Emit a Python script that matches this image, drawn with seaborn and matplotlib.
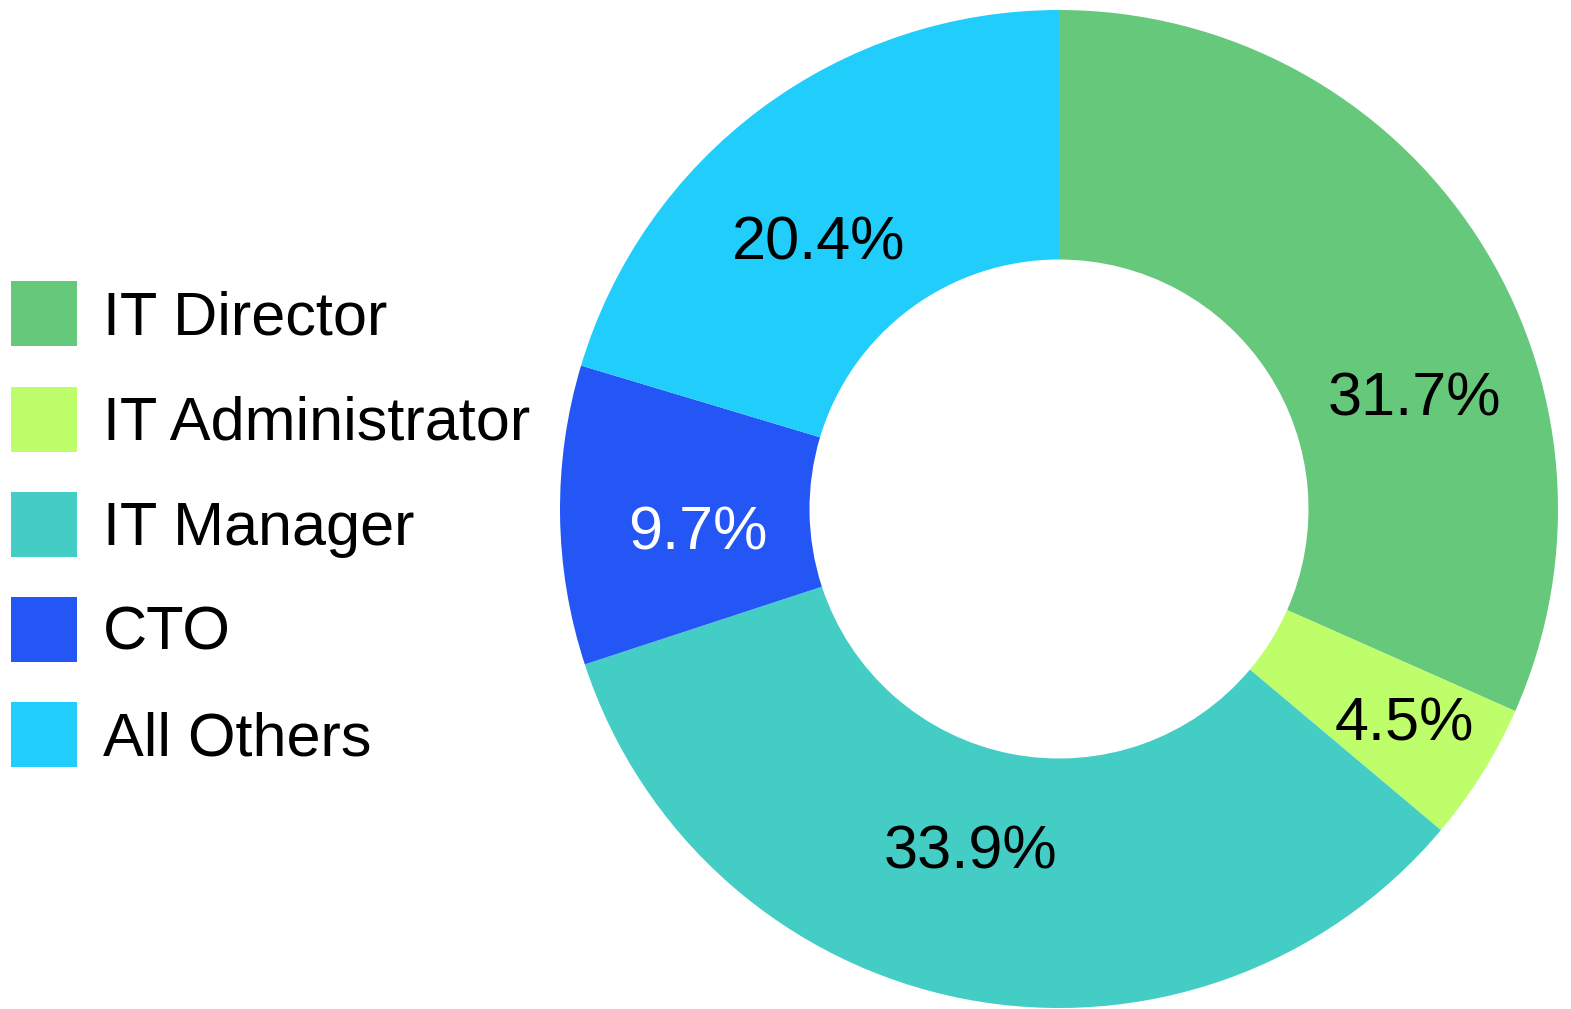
import matplotlib
matplotlib.use("Agg")
import matplotlib.pyplot as plt
import seaborn as sns
import numpy as np
from matplotlib.patches import Patch

# data
roles = ["IT Director", "IT Administrator", "IT Manager", "CTO", "All Others"]
shares = [31.7, 4.5, 33.9, 9.7, 20.4]
colors = ["#66c87a", "#befe6a", "#43cdc4", "#2456f5", "#21cdfa"]
label_colors = ["black", "black", "black", "white", "black"]

# label placement tweaks (degrees from wedge middle, radius in pie units)
label_shift = [-15, 0.7, -3.8, 2.2, 4.9]
label_radius = [0.75, 0.81, 0.70, 0.725, 0.727]

sns.set_theme(style="white")
plt.rcParams["font.family"] = ["Liberation Sans", "DejaVu Sans"]
plt.rcParams["text.color"] = "black"

fig = plt.figure(figsize=(15.71, 10.09), dpi=100)
cx, cy, r = 1059, 509, 499
ax = fig.add_axes([(cx - r) / 1571, (1009 - cy - r) / 1009, 2 * r / 1571, 2 * r / 1009])

wedges, _ = ax.pie(
    shares, colors=colors, startangle=90, counterclock=False,
    wedgeprops=dict(width=0.5, edgecolor="none"),
)
for w, val, c, dth, rad in zip(wedges, shares, label_colors, label_shift, label_radius):
    ang = np.deg2rad((w.theta1 + w.theta2) / 2 + dth)
    ax.text(rad * np.cos(ang), rad * np.sin(ang), f"{val:.1f}%",
            ha="center", va="center_baseline", fontsize=44, color=c)
ax.set_xlim(-1, 1)
ax.set_ylim(-1, 1)
ax.set_aspect("auto")
ax.axis("off")

handles = [Patch(facecolor=c, edgecolor="none") for c in colors]
fig.legend(handles, roles, loc="center left", bbox_to_anchor=(11 / 1571, 0.480),
           frameon=False, fontsize=44, borderpad=0, borderaxespad=0,
           handlelength=1.08, handleheight=1.26, handletextpad=0.42,
           labelspacing=0.64, labelcolor="black")

fig.savefig("out.png", dpi=100)
